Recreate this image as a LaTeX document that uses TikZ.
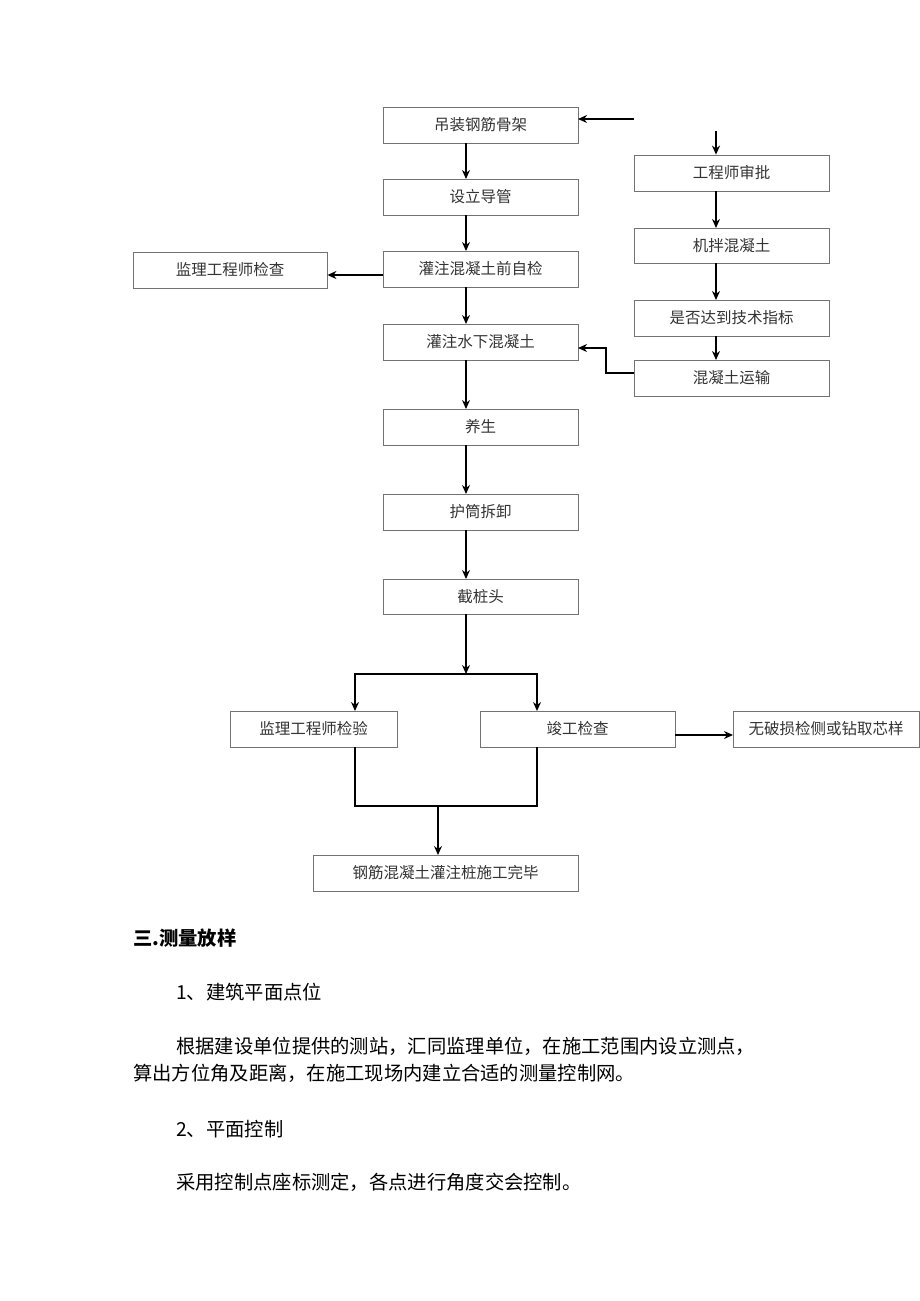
\documentclass[tikz,border=0pt]{standalone}
\usepackage{fontspec}
\setmainfont{Noto Sans CJK SC}
\usetikzlibrary{arrows.meta}
\begin{document}
\begin{tikzpicture}[x=1pt,y=-1pt,
  box/.style={draw=black!55,line width=0.8pt,inner sep=0pt,font=\fontsize{15.5}{15.5}\selectfont\color{black!80}},
  arr/.style={line width=1.3pt,-{Stealth[length=9pt,width=8pt]}},
  ln/.style={line width=1.3pt},
  para/.style={anchor=base west,inner sep=0pt,font=\fontsize{19.3}{19.3}\selectfont}]
\useasboundingbox (0,0) rectangle (920,1301);
\newcommand{\bx}[6]{\node[box,minimum width=#4-#2,minimum height=#5-#3] (#1) at ({(#2+#4)/2},{(#3+#5)/2}) {#6};}
\bx{a}{383}{107}{578}{143}{吊装钢筋骨架}
\bx{b}{383}{179}{578}{215}{设立导管}
\bx{c}{383}{251}{578}{287}{灌注混凝土前自检}
\bx{d}{383}{324}{578}{360}{灌注水下混凝土}
\bx{e}{383}{409}{578}{445}{养生}
\bx{f}{383}{494}{578}{530}{护筒拆卸}
\bx{g}{383}{579}{578}{614}{截桩头}
\bx{l}{133}{252}{327}{288}{监理工程师检查}
\bx{r1}{634}{155}{829}{191}{工程师审批}
\bx{r2}{634}{228}{829}{263}{机拌混凝土}
\bx{r3}{634}{300}{829}{336}{是否达到技术指标}
\bx{r4}{634}{360}{829}{396}{混凝土运输}
\bx{h1}{230}{711}{397}{747}{监理工程师检验}
\bx{h2}{480}{711}{675}{747}{竣工检查}
\bx{h3}{733}{711}{919}{747}{无破损检侧或钻取芯样}
\bx{z}{313}{855}{578}{891}{钢筋混凝土灌注桩施工完毕}
% main column
\draw[arr] (466,143) -- (466,179);
\draw[arr] (466,215) -- (466,251);
\draw[arr] (466,287) -- (466,324);
\draw[arr] (466,360) -- (466,409);
\draw[arr] (466,445) -- (466,494);
\draw[arr] (466,530) -- (466,579);
\draw[arr] (c.west |- 0,275) -- (l.east |- 0,275);
% right column
\coordinate (ta) at (634,119);
\draw[arr] (ta) -- (578,119);
\coordinate (tr) at (716,131);
\draw[arr] (tr) -- (r1.north -| tr);
\draw[arr] (716,191) -- (716,228);
\draw[arr] (716,263) -- (716,300);
\draw[arr] (716,336) -- (716,360);
\draw[arr] (r4.west |- 0,373) -- (606,373) -- (606,348) -- (578,348);
% branches
\draw[arr] (466,614) -- (466,674);
\draw[ln] (355,674) -- (537,674);
\draw[arr] (355,673.35) -- (355,711);
\draw[arr] (537,673.35) -- (537,711);
\draw[arr] (675,735) -- (733,735);
\draw[ln] (355,747) -- (355,806) -- (537,806) -- (537,747);
\draw[arr] (438,806) -- (438,855);
% text
\node[para,font=\fontsize{19.3}{19.3}\selectfont\bfseries] (t0) at (133,945) {三.测量放样};
\node[para] (t1) at (176,999) {1、建筑平面点位};
\node[para] (t2) at (176,1053) {根据建设单位提供的测站，汇同监理单位，在施工范围内设立测点，};
\node[para] (t3) at (133,1080) {算出方位角及距离，在施工现场内建立合适的测量控制网。};
\node[para] (t4) at (176,1136) {2、平面控制};
\node[para] (t5) at (176,1189) {采用控制点座标测定，各点进行角度交会控制。};
\end{tikzpicture}
\end{document}
